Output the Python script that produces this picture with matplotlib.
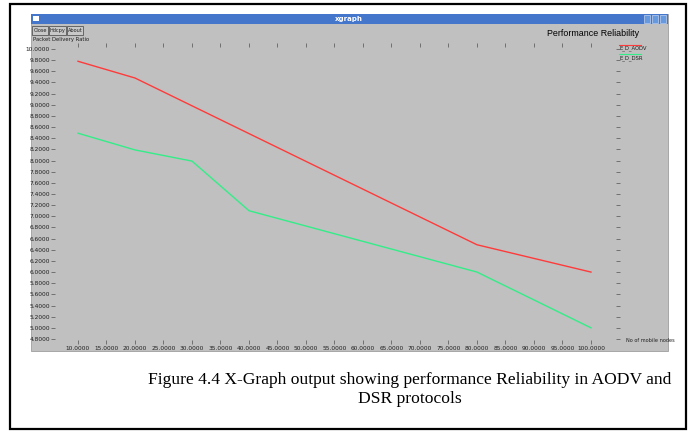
import matplotlib
matplotlib.use("Agg")
import matplotlib.pyplot as plt
from matplotlib.patches import Rectangle

# ---- data ----
aodv_x = [10, 20, 80, 100]
aodv_y = [9.78, 9.48, 6.49, 6.00]
dsr_x = [10, 20, 30, 40, 80, 100]
dsr_y = [8.49, 8.19, 7.99, 7.10, 6.00, 5.00]
x_ticks = [10, 15, 20, 25, 30, 35, 40, 45, 50, 55, 60, 65, 70, 75, 80, 85, 90, 95, 100]
y_ticks = [round(4.8 + 0.2 * i, 1) for i in range(27)]
series_names = ["E_D_AODV", "E_D_DSR"]
title = "Performance Reliability"
y_label = "Packet Delivery Ratio"
x_label = "No of mobile nodes"
caption = ["Figure 4.4 X-Graph output showing performance Reliability in AODV and",
           "DSR protocols"]

W, H = 694, 432
fig = plt.figure(figsize=(W / 100, H / 100), dpi=100)
fig.patch.set_facecolor("white")

def px(x, y):
    return x / W, 1 - y / H

def rect(x0, y0, x1, y1, **kw):
    fx, fy = px(x0, y1)
    r = Rectangle((fx, fy), (x1 - x0) / W, (y1 - y0) / H, transform=fig.transFigure,
                  zorder=-5, **kw)
    fig.patches.append(r)
    return r

# outer frame
rect(10, 4, 686, 429, facecolor="white", edgecolor="black", linewidth=1.6)
# window
rect(31, 14, 668, 351, facecolor="#c0c0c0", edgecolor="#909090", linewidth=0.5)
# title bar
rect(31, 14, 668, 24, facecolor="#4477cc", edgecolor="none")
rect(33, 16, 39, 21, facecolor="white", edgecolor="none")
for i in range(3):
    rect(644 + i * 8, 15.5, 650 + i * 8, 22.5, facecolor="#6699dd", edgecolor="#dde6f5",
         linewidth=0.4)
fig.text(*px(349, 19.5), "xgraph", color="white", fontsize=5, fontweight="bold",
         ha="center", va="center")
# buttons
for lab, x0, x1 in [("Close", 32, 48), ("Hdcpy", 49, 66), ("About", 67, 83)]:
    rect(x0, 26, x1, 35, facecolor="#c8c8c8", edgecolor="#404040", linewidth=0.5)
    fig.text(*px((x0 + x1) / 2, 30.5), lab, fontsize=3.6, ha="center", va="center",
             color="#202020")
fig.text(*px(33, 39.5), y_label, fontsize=3.8, ha="left", va="center", color="#202020")
fig.text(*px(593, 33.5), title, fontsize=6.4, ha="center", va="center", color="black",
         family="Liberation Sans")

# plot axes
ax = fig.add_axes([55 / W, 1 - 340 / H, (616 - 55) / W, (340 - 47) / H])
ax.set_zorder(5)
ax.set_facecolor("none")
for s in ax.spines.values():
    s.set_visible(False)
ax.set_xlim(5.965, 104.39)
ax.set_ylim(4.782, 10.036)

ax.plot(aodv_x, aodv_y, color="#ff3a3a", lw=1.0)
ax.plot(dsr_x, dsr_y, color="#33ee88", lw=1.0)

ax.set_xticks(x_ticks)
ax.set_xticklabels([f"{v:.4f}" for v in x_ticks])
ax.set_yticks(y_ticks)
ax.set_yticklabels([f"{v:.4f}" for v in y_ticks])
ax.tick_params(axis="x", which="both", top=True, bottom=True, direction="out",
               length=3, width=0.5, color="#505050", labelsize=4.2, pad=1.5,
               labelcolor="#202020")
ax.tick_params(axis="y", which="both", left=True, right=True, direction="out",
               length=3, width=0.5, color="#505050", labelsize=4.2, pad=0.5,
               labelcolor="#202020")

# legend-like labels at right
for i, (name, col) in enumerate(zip(series_names, ["#ff3a3a", "#33ee88"])):
    y = 48.5 + i * 9.5
    fig.text(*px(619, y), name, fontsize=3.8, ha="left", va="center", color="#202020")
    fig.lines.append(plt.Line2D([619 / W, 641 / W], [1 - (y - 4) / H] * 2,
                                transform=fig.transFigure, color=col, lw=0.8))
fig.text(*px(626, 341), x_label, fontsize=3.6, ha="left", va="center", color="#202020")

# caption
fig.text(*px(410, 380), caption[0], fontsize=12.6, family="Liberation Serif",
         ha="center", va="center")
fig.text(*px(410, 399), caption[1], fontsize=12.6, family="Liberation Serif",
         ha="center", va="center")

fig.savefig("out.png", dpi=100)
